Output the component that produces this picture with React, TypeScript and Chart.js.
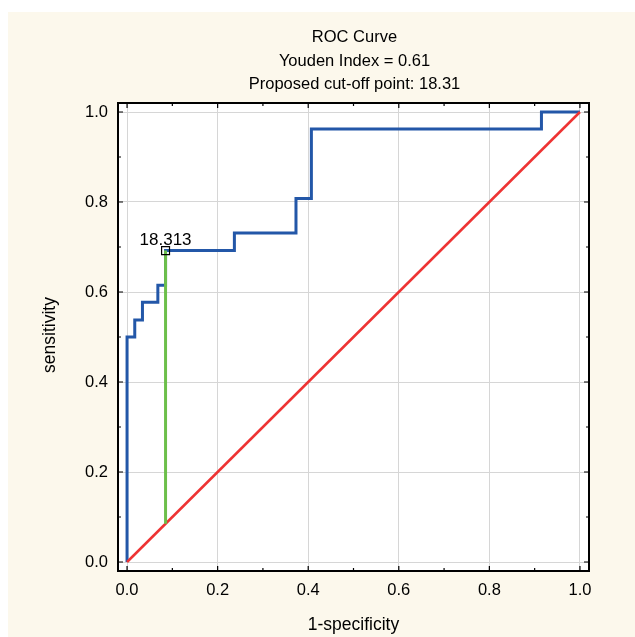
import React, { useEffect, useRef } from "react";
import { Chart, registerables } from "chart.js";

Chart.register(...registerables);

// ---- data ----
const rocFpr = [0, 0, 0.017, 0.034, 0.068, 0.085, 0.237, 0.373, 0.407, 0.915, 1.0];
const rocTpr = [0, 0.5, 0.538, 0.577, 0.615, 0.692, 0.731, 0.808, 0.962, 1.0, 1.0];
const diagonalX = [0, 1];
const diagonalY = [0, 1];
const cutoffFpr = 0.085;
const cutoffTpr = 0.692;
const cutoffLabel = "18.313";
const titleLines = ["ROC Curve", "Youden Index = 0.61", "Proposed cut-off point: 18.31"];
const xAxisTitle = "1-specificity";
const yAxisTitle = "sensitivity";
const majorTicks = [0, 0.2, 0.4, 0.6, 0.8, 1.0];
const minorTicks = [0.1, 0.3, 0.5, 0.7, 0.9];

const FONT = '"Liberation Sans", Arial, sans-serif';
const BG = "#FCF8EC";

const decorPlugin = {
  id: "decor",
  beforeDraw(chart: any) {
    const { ctx, chartArea } = chart;
    ctx.save();
    ctx.fillStyle = "#ffffff";
    ctx.fillRect(chartArea.left, chartArea.top, chartArea.right - chartArea.left, chartArea.bottom - chartArea.top);
    ctx.restore();
  },
  afterDraw(chart: any) {
    const { ctx, chartArea } = chart;
    const xs = chart.scales.x;
    const ys = chart.scales.y;
    const { left, right, top, bottom } = chartArea;
    ctx.save();
    // frame
    ctx.strokeStyle = "#000";
    ctx.lineWidth = 2;
    ctx.strokeRect(left, top, right - left, bottom - top);
    // tick marks (inward)
    ctx.lineWidth = 1.2;
    const drawTicks = (vals: number[], len: number) => {
      for (const v of vals) {
        const px = xs.getPixelForValue(v);
        const py = ys.getPixelForValue(v);
        ctx.beginPath();
        ctx.moveTo(px, bottom);
        ctx.lineTo(px, bottom - len);
        ctx.moveTo(px, top);
        ctx.lineTo(px, top + len);
        ctx.moveTo(left, py);
        ctx.lineTo(left + len, py);
        ctx.moveTo(right, py);
        ctx.lineTo(right - len, py);
        ctx.stroke();
      }
    };
    drawTicks(majorTicks, 5);
    drawTicks(minorTicks, 3);

    const cx = (left + right) / 2;
    const cy = (top + bottom) / 2;
    ctx.fillStyle = "#000";
    // titles
    ctx.font = `16.5px ${FONT}`;
    ctx.textAlign = "center";
    ctx.textBaseline = "alphabetic";
    titleLines.forEach((t, i) => ctx.fillText(t, cx + 1, 30 + i * 23.5));
    // axis titles
    ctx.font = `17.5px ${FONT}`;
    ctx.fillText(xAxisTitle, cx, 618);
    ctx.save();
    ctx.translate(42, cy - 2);
    ctx.rotate(-Math.PI / 2);
    ctx.textBaseline = "middle";
    ctx.fillText(yAxisTitle, 0, 0);
    ctx.restore();
    // cut-off label
    const mx = xs.getPixelForValue(cutoffFpr);
    const my = ys.getPixelForValue(cutoffTpr);
    ctx.font = `17px ${FONT}`;
    ctx.textBaseline = "alphabetic";
    ctx.fillText(cutoffLabel, mx, my - 6);
    ctx.restore();
  },
};

export default function App() {
  const ref = useRef<HTMLCanvasElement | null>(null);
  useEffect(() => {
    if (!ref.current) return;
    const setTicks = (scale: any) => {
      scale.ticks = majorTicks.map((v) => ({ value: v }));
    };
    const chart = new Chart(ref.current, {
      type: "scatter",
      data: {
        datasets: [
          {
            label: "ROC",
            data: rocFpr.map((x, i) => ({ x, y: rocTpr[i] })),
            showLine: true,
            stepped: "before",
            borderColor: "#2357A8",
            borderWidth: 3,
            pointRadius: 0,
            fill: false,
            order: 3,
          },
          {
            label: "Diagonal",
            data: diagonalX.map((x, i) => ({ x, y: diagonalY[i] })),
            showLine: true,
            borderColor: "#EE3333",
            borderWidth: 2.5,
            pointRadius: 0,
            order: 2,
          },
          {
            label: "Youden",
            data: [
              { x: cutoffFpr, y: cutoffFpr },
              { x: cutoffFpr, y: cutoffTpr },
            ],
            showLine: true,
            borderColor: "#6CBF4A",
            borderWidth: 3,
            pointRadius: 0,
            order: 1,
          },
          {
            label: "Cut-off",
            data: [{ x: cutoffFpr, y: cutoffTpr }],
            showLine: false,
            pointStyle: "rect",
            pointRadius: 5.6,
            pointBackgroundColor: "rgba(0,0,0,0)",
            pointBorderColor: "#000",
            pointBorderWidth: 1.2,
            order: 0,
          },
        ],
      },
      options: {
        responsive: false,
        animation: false,
        layout: { padding: { top: 91, right: 46, left: 0, bottom: 0 } },
        plugins: { legend: { display: false }, title: { display: false }, tooltip: { enabled: false } },
        scales: {
          x: {
            type: "linear",
            min: -0.02,
            max: 1.02,
            afterBuildTicks: setTicks,
            afterFit: (s: any) => {
              s.height = 66;
            },
            grid: { color: "#D6D6D6", lineWidth: 1, drawTicks: false },
            border: { display: false },
            ticks: {
              padding: 10,
              color: "#000",
              font: { family: FONT, size: 16.5 },
              callback: (v: any) => Number(v).toFixed(1),
            },
          },
          y: {
            type: "linear",
            min: -0.02,
            max: 1.02,
            afterBuildTicks: setTicks,
            afterFit: (s: any) => {
              s.width = 110;
            },
            grid: { color: "#D6D6D6", lineWidth: 1, drawTicks: false },
            border: { display: false },
            ticks: {
              padding: 10,
              color: "#000",
              font: { family: FONT, size: 16.5 },
              callback: (v: any) => Number(v).toFixed(1),
            },
          },
        },
      },
      plugins: [decorPlugin],
    });
    return () => chart.destroy();
  }, []);
  return (
    <div style={{ position: "fixed", left: 8, top: 12, width: 627, height: 625, background: BG }}>
      <canvas ref={ref} width={627} height={625} style={{ display: "block", width: 627, height: 625 }} />
    </div>
  );
}
